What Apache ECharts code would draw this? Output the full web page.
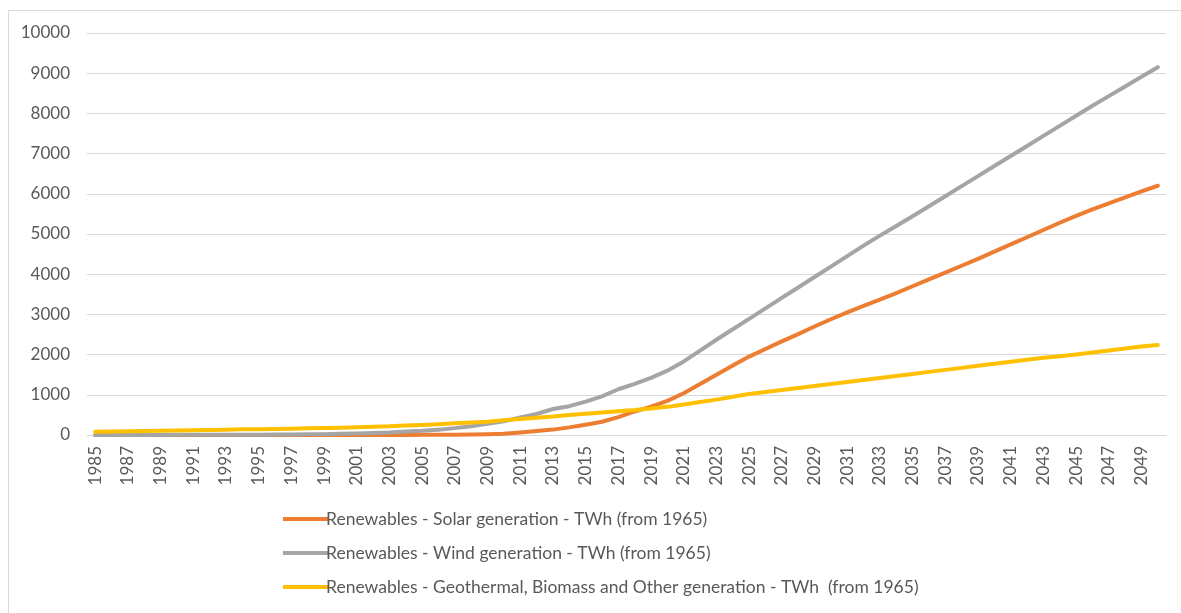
<!DOCTYPE html>
<html>
<head>
<meta charset="utf-8">
<script src="https://cdn.jsdelivr.net/npm/echarts@6/dist/echarts.min.js"></script>
<style>
  html, body { margin: 0; padding: 0; background: #ffffff; }
  #chart { width: 1181px; height: 613px; }
</style>
</head>
<body>
<div id="chart"></div>
<script>
// Years 1985–2050
const years = [];
for (let y = 1985; y <= 2050; y++) years.push(String(y));

// Generation in TWh, one value per year
const solar = [
  0, 0, 0, 0, 0, 0, 0, 0, 0, 0,
  0, 0, 0, 1, 1, 1, 1, 2, 2, 3,
  4, 6, 8, 12, 20, 32, 63, 97, 134, 190,
  256, 329, 444, 585, 704, 850, 1040, 1270, 1500, 1730,
  1950, 2140, 2330, 2510, 2700, 2880, 3050, 3210, 3370, 3530,
  3700, 3870, 4040, 4210, 4380, 4560, 4740, 4920, 5100, 5280,
  5450, 5610, 5760, 5910, 6060, 6200
];

const wind = [
  0, 1, 1, 2, 3, 4, 4, 5, 6, 7,
  8, 10, 12, 16, 21, 31, 38, 52, 63, 85,
  104, 133, 171, 220, 277, 342, 437, 523, 646, 717,
  831, 962, 1138, 1270, 1420, 1600, 1830, 2100, 2370, 2630,
  2890, 3150, 3410, 3670, 3930, 4190, 4450, 4710, 4960, 5200,
  5440, 5690, 5940, 6190, 6440, 6690, 6940, 7190, 7440, 7690,
  7940, 8190, 8430, 8670, 8910, 9150
];

const other = [
  80, 85, 95, 100, 105, 115, 120, 125, 130, 140,
  145, 150, 155, 165, 175, 180, 190, 205, 215, 235,
  250, 270, 290, 310, 330, 370, 400, 430, 460, 500,
  530, 560, 590, 620, 660, 700, 760, 820, 880, 950,
  1020, 1070, 1120, 1170, 1220, 1270, 1320, 1370, 1420, 1470,
  1520, 1570, 1620, 1670, 1720, 1770, 1820, 1870, 1920, 1960,
  2000, 2050, 2100, 2150, 2200, 2240
];

const seriesNames = [
  'Renewables - Solar generation - TWh (from 1965)',
  'Renewables - Wind generation - TWh (from 1965)',
  'Renewables - Geothermal, Biomass and Other generation - TWh  (from 1965)'
];
const seriesColors = ['#ED7D31', '#A5A5A5', '#FFC000'];
const seriesData = [solar, wind, other];

const textColor = '#595959';
const gridColor = '#D9D9D9';
const font = 'Lato, "Open Sans", sans-serif';

const chart = echarts.init(document.getElementById('chart'), null, { renderer: 'canvas' });

chart.setOption({
  animation: false,
  backgroundColor: '#ffffff',
  textStyle: { fontFamily: font },
  graphic: [{
    type: 'rect',
    silent: true,
    shape: { x: 8.5, y: 10.5, width: 1300, height: 800 },
    style: { fill: 'none', stroke: gridColor, lineWidth: 1 }
  }],
  grid: { left: 87, right: 15, top: 33, bottom: 178, containLabel: false },
  legend: {
    orient: 'vertical',
    left: 278,
    top: 505,
    itemWidth: 45,
    itemHeight: 4,
    itemGap: 16,
    icon: 'rect',
    textStyle: { color: textColor, fontSize: 17.5, fontFamily: font, padding: [0, 0, 0, -7] },
    data: seriesNames
  },
  xAxis: {
    type: 'category',
    data: years,
    boundaryGap: true,
    axisLine: { show: true, lineStyle: { color: gridColor, width: 1 } },
    axisTick: { show: false },
    axisLabel: {
      interval: 1,
      rotate: 90,
      margin: 11,
      color: textColor,
      fontSize: 17,
      fontFamily: font
    },
    splitLine: { show: false }
  },
  yAxis: {
    type: 'value',
    min: 0,
    max: 10000,
    interval: 1000,
    axisLine: { show: false },
    axisTick: { show: false },
    axisLabel: {
      color: textColor,
      fontSize: 17,
      fontFamily: font,
      margin: 17,
      formatter: (v) => String(v)
    },
    splitLine: { show: true, lineStyle: { color: gridColor, width: 1 } }
  },
  series: seriesNames.map((name, i) => ({
    name: name,
    type: 'line',
    data: seriesData[i],
    showSymbol: false,
    symbol: 'none',
    smooth: false,
    lineStyle: { color: seriesColors[i], width: 4, cap: 'round', join: 'round' },
    itemStyle: { color: seriesColors[i] }
  }))
});
</script>
</body>
</html>
